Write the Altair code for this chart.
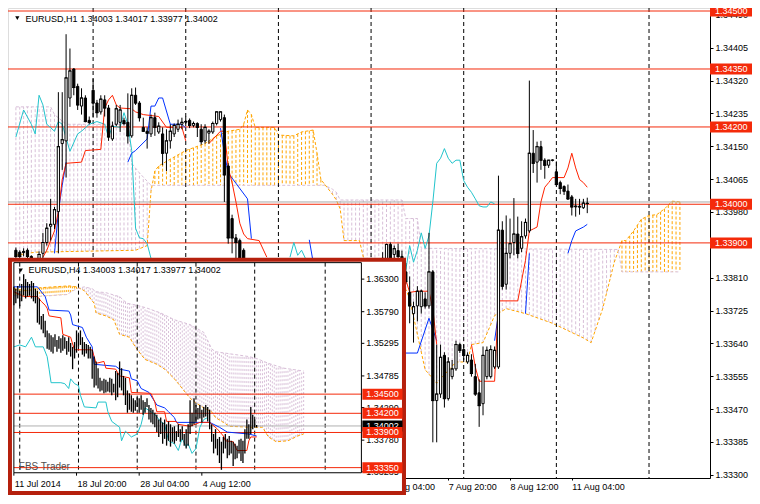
import altair as alt
import numpy as np
import pandas as pd

FONT = "Liberation Sans"
LEVEL = "#F42A0A"
ORANGE = "#FFA500"
THISTLE = "#D8BFD8"
CYAN = "#22C4CC"
BLUE = "#0030FF"
TENKAN = "#FF2200"
FRAME = "#B5200D"

# ---------------- layout helpers (reference px -> page px) ----------------
SX = 744 / 760
SY = 488 / 504
def px(x):
    return round(x * SX, 2)
def py(y):
    return round(y * SY, 2)
W, H = 702, 470

# ====================== MAIN CHART  EURUSD,H1 ======================
# bar index i : 0 = 1 Aug 2014 04:00 (one bar per trading hour)
bar_i = list(range(0, 61)) + list(range(95, 149))
bar_o = [1.33881,1.33876,1.33878,1.33881,1.33865,1.33850,1.33855,1.33873,1.33901,1.33943,
         1.33948,1.33981,1.34157,1.34164,1.34275,1.34350,1.34305,1.34254,1.34275,1.34217,
         1.34295,1.34262,1.34239,1.34270,1.34249,1.34169,1.34207,1.34212,1.34217,1.34212,
         1.34177,1.34282,1.34262,1.34199,1.34189,1.34182,1.34224,1.34187,1.34182,1.34132,
         1.34164,1.34182,1.34194,1.34207,1.34212,1.34217,1.34204,1.34209,1.34194,1.34164,
         1.34184,1.34187,1.34209,1.34219,1.34224,1.34099,1.33963,1.33913,1.33906,1.33881,
         1.33850,
         1.33860,1.33840,1.33896,1.33870,1.33880,1.33865,1.33825,1.33772,1.33717,1.33737,
         1.33735,1.33755,1.33737,1.33825,1.33492,1.33509,1.33609,1.33497,1.33554,1.33574,
         1.33637,1.33624,1.33592,1.33597,1.33554,1.33512,1.33484,1.33554,1.33554,1.33579,
         1.33579,1.33933,1.33793,1.33873,1.33901,1.33923,1.33886,1.33918,1.33931,1.34132,
         1.34109,1.34149,1.34114,1.34101,1.34114,1.34084,1.34056,1.34046,1.34034,1.34019,
         1.33993,1.33995,1.33991,1.34003]
bar_h = [1.33888,1.33881,1.33886,1.33886,1.33868,1.33860,1.33878,1.33926,1.33951,1.34014,
         1.33993,1.34290,1.34290,1.34440,1.34403,1.34352,1.34312,1.34300,1.34282,1.34227,
         1.34325,1.34270,1.34282,1.34282,1.34257,1.34214,1.34257,1.34257,1.34224,1.34287,
         1.34300,1.34302,1.34267,1.34224,1.34199,1.34232,1.34237,1.34212,1.34199,1.34194,
         1.34207,1.34209,1.34219,1.34224,1.34227,1.34222,1.34214,1.34212,1.34207,1.34207,
         1.34194,1.34214,1.34239,1.34239,1.34232,1.34106,1.33973,1.33923,1.33911,1.33886,
         1.33860,
         1.33876,1.33898,1.33901,1.33893,1.33898,1.33880,1.33848,1.33813,1.33748,1.33788,
         1.33779,1.33772,1.33926,1.33830,1.33637,1.33637,1.33617,1.33604,1.33597,1.33647,
         1.33642,1.33637,1.33617,1.33612,1.33587,1.33547,1.33632,1.33632,1.33635,1.33632,
         1.34074,1.33956,1.33971,1.33963,1.34016,1.33968,1.33956,1.33963,1.34320,1.34192,
         1.34162,1.34164,1.34119,1.34114,1.34116,1.34111,1.34061,1.34049,1.34051,1.34024,
         1.34014,1.34014,1.34014,1.34017]
bar_l = [1.33855,1.33860,1.33865,1.33855,1.33840,1.33835,1.33845,1.33860,1.33893,1.33906,
         1.33936,1.33873,1.34089,1.34069,1.34252,1.34282,1.34244,1.34232,1.34212,1.34207,
         1.34224,1.34224,1.34232,1.34227,1.34164,1.34164,1.34202,1.34187,1.34204,1.34157,
         1.34172,1.34257,1.34214,1.34187,1.34144,1.34174,1.34177,1.34182,1.34101,1.34086,
         1.34144,1.34174,1.34187,1.34194,1.34202,1.34197,1.34199,1.34174,1.34154,1.34157,
         1.34157,1.34182,1.34204,1.34214,1.34006,1.33898,1.33873,1.33860,1.33850,1.33830,
         1.33810,
         1.33820,1.33830,1.33840,1.33850,1.33845,1.33835,1.33793,1.33692,1.33642,1.33697,
         1.33717,1.33730,1.33730,1.33384,1.33384,1.33499,1.33474,1.33492,1.33547,1.33569,
         1.33615,1.33597,1.33587,1.33554,1.33504,1.33424,1.33454,1.33547,1.33549,1.33574,
         1.33574,1.33779,1.33779,1.33860,1.33868,1.33860,1.33876,1.33911,1.33926,1.34081,
         1.34056,1.34089,1.34066,1.34094,1.34111,1.34049,1.34026,1.34024,1.34011,1.33971,
         1.33968,1.33973,1.33988,1.33977]
bar_c = [1.33865,1.33865,1.33876,1.33865,1.33850,1.33855,1.33870,1.33901,1.33938,1.33948,
         1.33986,1.34149,1.34167,1.34327,1.34345,1.34302,1.34257,1.34275,1.34214,1.34212,
         1.34262,1.34237,1.34272,1.34249,1.34174,1.34202,1.34247,1.34244,1.34209,1.34177,
         1.34282,1.34262,1.34224,1.34189,1.34184,1.34224,1.34199,1.34202,1.34132,1.34164,
         1.34189,1.34204,1.34207,1.34212,1.34214,1.34204,1.34209,1.34199,1.34162,1.34199,
         1.34189,1.34209,1.34239,1.34239,1.34076,1.33913,1.33913,1.33901,1.33860,1.33850,
         1.33830,
         1.33845,1.33896,1.33855,1.33885,1.33865,1.33850,1.33800,1.33737,1.33735,1.33775,
         1.33775,1.33737,1.33825,1.33492,1.33509,1.33604,1.33497,1.33592,1.33574,1.33637,
         1.33622,1.33609,1.33609,1.33562,1.33509,1.33479,1.33609,1.33622,1.33624,1.33622,
         1.33933,1.33788,1.33873,1.33898,1.33923,1.33873,1.33916,1.33953,1.34132,1.34106,
         1.34149,1.34114,1.34101,1.34114,1.34114,1.34051,1.34041,1.34034,1.34014,1.33993,
         1.33995,1.33993,1.34003,1.34002]

# Ichimoku lines (bar index, price)
tenkan_i = [7,8,9,10,11,12,13,17,18,22,23,24,25,26,27,30,31,33,37,39,43,44,50,53,54,55,56,57,58,59,60,63,65,
            100,101,102,104,107,108,109,118,119,120,124,125,130,132,133,134,135,136,137,138,139,142,143,144,145,146,147,148]
tenkan_p = [1.33863,1.33881,1.33906,1.33931,1.33981,1.34064,1.34106,1.34109,1.34139,1.34142,
            1.34249,1.34270,1.34282,1.34257,1.34249,1.34247,1.34239,1.34232,1.34227,1.34199,
            1.34199,1.34164,1.34157,1.34189,1.34189,1.34094,1.34056,1.34006,1.33951,1.33923,
            1.33911,1.33906,1.33863,
            1.33793,1.33805,1.33772,1.33775,1.33775,1.33730,1.33637,1.33637,1.33579,1.33542,
            1.33542,1.33750,1.33750,1.33855,1.33931,1.33936,1.33941,1.34006,1.34044,1.34056,
            1.34069,1.34069,1.34094,1.34132,1.34094,1.34064,1.34056,1.34044]
kijun_i = [10,11,12,13,29,30,31,34,35,36,37,38,40,43,44,53,54,55,60,61,76,77,
           100,104,107,109,124,125,132,133,143,144,145,147,148]
kijun_p = [1.33873,1.33981,1.34049,1.34109,1.34109,1.34132,1.34139,1.34169,1.34254,1.34254,
           1.34275,1.34275,1.34207,1.34207,1.34197,1.34197,1.34132,1.34081,1.34014,1.33911,
           1.33908,1.33850,
           1.33615,1.33615,1.33705,1.33647,1.33647,1.33717,1.33717,1.33873,1.33873,1.33906,
           1.33931,1.33941,1.33948]
chikou_i = [0,2,4,5,6,7,8,10,11,12,14,16,17,19,21,23,24,25,27,28,29,30,31,32,33,34,35,
            71,72,73,74,75,
            100,101,102,103,104,105,106,107,108,109,110,111,112,113,114,115,116,117,118,119,120,121,122,123,124]
chikou_p = [1.34174,1.34244,1.34207,1.34182,1.34282,1.34257,1.34207,1.34189,1.34214,1.34207,
            1.34137,1.34182,1.34189,1.34207,1.34214,1.34207,1.34174,1.34202,1.34199,1.34237,
            1.34207,1.34139,1.33938,1.33913,1.33911,1.33898,1.33860,
            1.33863,1.33901,1.33868,1.33881,1.33860,
            1.33780,1.33830,1.33893,1.33850,1.33881,1.33926,1.33886,1.33918,1.34006,1.34106,
            1.34119,1.34144,1.34119,1.34106,1.34114,1.34114,1.34061,1.34044,1.34031,1.34014,
            1.33996,1.33993,1.33993,1.34006,1.34001]
spanA_i = [0,5,31,34,35,36,37,39,44,49,52,55,58,59,60,61,62,67,68,72,74,77,78,79,82,83,84,85,89,90,
           95,101,102,106,109,114,117,118,121,124,127,132,139,147,149,152,155,157,158,160,162,164,166,168,170,172]
spanA_p = [1.33868,1.33876,1.33881,1.33893,1.34034,1.34086,1.34099,1.34111,1.34139,1.34157,
           1.34177,1.34189,1.34194,1.34207,1.34244,1.34232,1.34199,1.34199,1.34179,1.34177,
           1.34187,1.34192,1.34132,1.34064,1.34026,1.34011,1.33988,1.33906,1.33906,1.33863,
           1.33818,1.33780,1.33755,1.33572,1.33537,1.33592,1.33592,1.33637,1.33642,1.33712,
           1.33730,1.33717,1.33692,1.33654,1.33642,1.33730,1.33850,1.33906,1.33906,1.33931,
           1.33961,1.33971,1.33973,1.33988,1.34008,1.34006]
spanB_i = [0,9,10,13,29,30,32,35,80,82,83,84,100,101,104,105,156,157,172]
spanB_p = [1.34252,1.34252,1.34232,1.34207,1.34207,1.34106,1.34081,1.34049,1.34049,1.34039,
           1.34031,1.34011,1.34011,1.33963,1.33963,1.33886,1.33883,1.33825,1.33825]

main_levels = [1.34500, 1.34350, 1.34200, 1.34000, 1.33900]
main_level_labels = ["1.34500", "1.34350", "1.34200", "1.34000", "1.33900"]
main_current = 1.34002
main_day_sep = [20, 44, 68, 92, 116, 140, 164]
main_y_ticks = [1.34490,1.34405,1.34320,1.34235,1.34150,1.34065,1.33980,1.33895,
                1.33810,1.33725,1.33640,1.33555,1.33470,1.33385,1.33300]
main_x_ticks = [96, 112, 128, 144]
main_x_labels = ["7 Aug 04:00", "7 Aug 20:00", "8 Aug 12:00", "11 Aug 04:00"]
main_title = "EURUSD,H1  1.34003 1.34017 1.33977 1.34002"

# ====================== INSET CHART  EURUSD,H4 ======================
inset_high = [1.36179,1.36149,1.36194,1.36118,1.36224,1.36376,1.36300,1.36255,1.36224,1.36270,
              1.36239,1.36149,1.36118,1.35997,1.35724,1.35755,1.35649,1.35497,1.35452,1.35421,
              1.35391,1.35436,1.35346,1.35406,1.35376,1.35421,1.35391,1.35330,1.35391,1.35300,
              1.35240,1.35315,1.35497,1.35436,1.35497,1.35391,1.35315,1.35285,1.35270,1.35240,
              1.35194,1.35088,1.35012,1.34906,1.34755,1.34709,1.34740,1.34724,1.34694,1.34755,
              1.34740,1.34664,1.34861,1.34830,1.35012,1.34906,1.34785,1.34755,1.34558,1.34512,
              1.34482,1.34437,1.34406,1.34452,1.34437,1.34482,1.34406,1.34376,1.34437,1.34330,
              1.34285,1.34255,1.34209,1.34179,1.34103,1.34134,1.34058,1.34103,1.34028,1.34073,
              1.34028,1.33982,1.33997,1.33922,1.34028,1.33952,1.33997,1.33876,1.33952,1.34028,
              1.34406,1.34209,1.34437,1.34330,1.34285,1.34330,1.34255,1.34300,1.34330,1.34300,
              1.34255,1.34028,1.33876,1.33952,1.33800,1.33830,1.33755,1.33830,1.33876,1.33800,
              1.33846,1.33770,1.33755,1.33725,1.33694,1.33785,1.33800,1.33770,1.33952,1.34103,
              1.34028,1.34300,1.34179,1.34103,1.34017]
inset_low = [1.35891,1.35921,1.35997,1.35876,1.35952,1.36042,1.35997,1.36027,1.36042,1.35997,
             1.35952,1.35921,1.35618,1.35588,1.35512,1.35452,1.35391,1.35209,1.35194,1.35164,
             1.35134,1.35240,1.35164,1.35209,1.35149,1.35179,1.35209,1.35118,1.35164,1.35088,
             1.34891,1.35058,1.35149,1.35240,1.35270,1.35118,1.35088,1.35134,1.35058,1.35058,
             1.34740,1.34603,1.34634,1.34588,1.34543,1.34558,1.34512,1.34527,1.34543,1.34527,
             1.34482,1.34527,1.34406,1.34452,1.34603,1.34558,1.34482,1.34330,1.34209,1.34255,
             1.34224,1.34209,1.34240,1.34300,1.34209,1.34255,1.34179,1.34209,1.34300,1.34103,
             1.34058,1.34028,1.33982,1.33906,1.33830,1.33876,1.33725,1.33800,1.33694,1.33770,
             1.33679,1.33755,1.33725,1.33770,1.33830,1.33755,1.33785,1.33694,1.33649,1.33694,
             1.33876,1.33997,1.34028,1.34058,1.34103,1.34118,1.34058,1.34134,1.34149,1.34073,
             1.33952,1.33755,1.33573,1.33649,1.33543,1.33422,1.33316,1.33573,1.33649,1.33497,
             1.33543,1.33573,1.33376,1.33482,1.33497,1.33573,1.33452,1.33422,1.33573,1.33800,
             1.33800,1.33876,1.33952,1.33982,1.33977]
in_tenkan_j = [0,5,12,14,16,17,18,24,25,29,30,31,40,41,42,46,47,52,54,59,60,70,72,73,77,78,83,84,90,95,
               100,104,107,108,112,114,119,120,121,124]
in_tenkan_p = [1.36103,1.36027,1.36027,1.35951,1.35891,1.35845,1.35724,1.35694,1.35436,1.35391,
               1.35285,1.35194,1.35194,1.35088,1.34982,1.35012,1.34906,1.34891,1.34785,1.34755,
               1.34527,1.34512,1.34376,1.34224,1.34224,1.34073,1.34073,1.34027,1.33997,1.34058,
               1.34058,1.33952,1.33845,1.33770,1.33755,1.33618,1.33618,1.33770,1.33830,1.33830]
in_kijun_j = [0,12,16,18,28,29,30,35,37,40,41,52,54,59,60,63,65,69,73,77,79,82,83,100,105,109,120,124]
in_kijun_p = [1.36179,1.36179,1.36027,1.35815,1.35800,1.35739,1.35588,1.35543,1.35391,1.35240,
              1.34967,1.34936,1.34891,1.34861,1.34739,1.34709,1.34588,1.34527,1.34330,1.34285,
              1.34224,1.34133,1.34058,1.34058,1.33982,1.33906,1.33876,1.33845]
in_chikou_j = [0,3,6,9,11,15,17,18,19,24,26,28,29,31,33,34,36,42,43,47,48,50,54,55,57,60,63,65,67,70,
               72,75,77,79,82,84,85,86,88,89,91,93,95,97,99]
in_chikou_p = [1.35240,1.35270,1.35240,1.35391,1.35240,1.35240,1.35088,1.34891,1.34679,1.34679,
               1.34664,1.34588,1.34739,1.34664,1.34633,1.34482,1.34300,1.34285,1.34376,1.34376,
               1.34224,1.34073,1.33982,1.33770,1.33921,1.33830,1.33876,1.34027,1.34285,1.34224,
               1.34179,1.34073,1.34027,1.33770,1.33724,1.33618,1.33724,1.33800,1.33679,1.33724,
               1.33573,1.33649,1.33982,1.34103,1.34133]
in_spanA_j = [0,7,13,28,32,36,41,42,47,51,53,54,59,62,65,67,73,77,82,84,88,90,93,97,101,103,107,110,121,127,
              130,134,140,145,148]
in_spanA_p = [1.36149,1.36118,1.36164,1.36194,1.36179,1.36118,1.35921,1.35770,1.35724,1.35664,
              1.35512,1.35436,1.35391,1.35240,1.35118,1.35043,1.34967,1.34891,1.34739,1.34664,
              1.34512,1.34436,1.34361,1.34285,1.34224,1.34133,1.34058,1.33997,1.33982,1.33982,
              1.33830,1.33755,1.33770,1.33845,1.33876]
in_spanB_j = [0,12,27,32,36,40,42,47,52,54,56,58,63,68,75,82,90,97,101,103,120,124,130,138,148]
in_spanB_p = [1.36042,1.36027,1.36058,1.36149,1.36179,1.36149,1.36103,1.36088,1.36042,1.36027,
              1.35967,1.35921,1.35891,1.35846,1.35770,1.35664,1.35588,1.35467,1.35209,1.35164,
              1.35088,1.35058,1.34982,1.34906,1.34861]
in_levels = [1.34500, 1.34200, 1.33900, 1.33350]
in_level_labels = ["1.34500", "1.34200", "1.33900", "1.33350"]
in_current = 1.34002
in_week_sep = [3, 33, 63, 93, 123, 159]
in_y_ticks = [1.36300, 1.35790, 1.35295, 1.34785, 1.34290, 1.33780, 1.33285]
in_x_ticks = [0, 32, 64, 96]
in_x_labels = ["11 Jul 2014", "18 Jul 20:00", "28 Jul 04:00", "4 Aug 12:00"]
in_title = "EURUSD,H4  1.34003 1.34017 1.33977 1.34002"

# ---------------------------------------------------------------------------
one = pd.DataFrame({"k": [0]})
cloud_color = alt.Scale(domain=["up", "down"], range=[ORANGE, THISTLE])

def segs(idx, gap):
    s, out = 0, []
    for k, v in enumerate(idx):
        if k > 0 and v - idx[k - 1] > gap:
            s += 1
        out.append(s)
    return out

main_xs = alt.Scale(domain=[-0.75, 178.5], nice=False, zero=False)
main_ys = alt.Scale(domain=[1.332917, 1.345078], nice=False, zero=False)
expr = "''"
for v, lab in reversed(list(zip(main_x_ticks, main_x_labels))):
    expr = f"datum.value == {v} ? '{lab}' : {expr}"
ax_x = alt.Axis(values=main_x_ticks, labelExpr=expr, labelAlign="left", labelBaseline="top",
                labelFont=FONT, labelFontSize=9, labelColor="black", labelPadding=2,
                tickSize=2, tickColor="black", domainColor="black", grid=False, title=None,
                labelFlush=False, labelOverlap=False)
ax_y = alt.Axis(orient="right", values=main_y_ticks, format=".5f", labelFont=FONT, labelFontSize=9,
                labelColor="black", labelPadding=2, tickSize=3, tickColor="black",
                domainColor="black", grid=False, title=None, labelFlush=False, labelOverlap=False)

def MX(f="i"):
    return alt.X(f"{f}:Q", scale=main_xs, axis=ax_x, title=None)
def MY(f):
    return alt.Y(f"{f}:Q", scale=main_ys, axis=ax_y, title=None)

cand = pd.DataFrame({"i": bar_i, "o": bar_o, "h": bar_h, "l": bar_l, "c": bar_c})
hi = np.arange(0, 173)
ha = np.interp(hi, spanA_i, spanA_p)
hb = np.interp(hi, spanB_i, spanB_p)
hatch = pd.DataFrame({"i": hi, "a": ha, "b": hb, "kind": np.where(ha >= hb, "up", "down")})
ten = pd.DataFrame({"i": tenkan_i, "p": tenkan_p, "s": segs(tenkan_i, 5)})
kij = pd.DataFrame({"i": kijun_i, "p": kijun_p, "s": segs(kijun_i, 5)})
chi = pd.DataFrame({"i": chikou_i, "p": chikou_p, "s": segs(chikou_i, 5)})
sa = pd.DataFrame({"i": spanA_i, "p": spanA_p})
sb = pd.DataFrame({"i": spanB_i, "p": spanB_p})
lv = pd.DataFrame({"p": main_levels, "lab": main_level_labels})

main_layers = [
    alt.Chart(hatch).mark_rule(strokeDash=[3, 2], strokeWidth=1).encode(
        x=MX(), y=MY("a"), y2="b", color=alt.Color("kind:N", scale=cloud_color, legend=None)),
    alt.Chart(sa).mark_line(color=ORANGE, strokeDash=[3, 2], strokeWidth=1).encode(x=MX(), y=MY("p")),
    alt.Chart(sb).mark_line(color=THISTLE, strokeDash=[3, 2], strokeWidth=1).encode(x=MX(), y=MY("p")),
    alt.Chart(pd.DataFrame({"i": main_day_sep})).mark_rule(color="black", strokeDash=[4, 3], strokeWidth=1).encode(x=MX()),
    alt.Chart(lv).mark_rule(color=LEVEL, strokeWidth=1).encode(y=MY("p")),
    alt.Chart(pd.DataFrame({"p": [main_current]})).mark_rule(color="#A8A8A8", strokeWidth=1, yOffset=-1.5).encode(y=MY("p")),
    alt.Chart(chi).mark_line(color=CYAN, strokeWidth=1).encode(x=MX(), y=MY("p"), detail="s:N"),
    alt.Chart(kij).mark_line(color=BLUE, strokeWidth=1).encode(x=MX(), y=MY("p"), detail="s:N"),
    alt.Chart(ten).mark_line(color=TENKAN, strokeWidth=1).encode(x=MX(), y=MY("p"), detail="s:N"),
    alt.Chart(cand).mark_rule(color="black", strokeWidth=1).encode(x=MX(), y=MY("l"), y2="h"),
    alt.Chart(cand).mark_bar(size=2.2, stroke="black", strokeWidth=1).encode(
        x=MX(), y=MY("o"), y2="c",
        fill=alt.condition("datum.c >= datum.o", alt.value("white"), alt.value("black"))),
    alt.Chart(cand).mark_rule(color="black", strokeWidth=1, xOffset=-1.6, x2Offset=1.6).encode(x=MX(), x2="i", y=MY("c")),
    alt.Chart(lv).mark_rect(color=LEVEL, yOffset=-5.5, y2Offset=5.5).encode(
        x=alt.value(W), x2=alt.value(W + 42), y=MY("p"), y2="p"),
    alt.Chart(lv).mark_text(align="left", baseline="middle", color="white", font=FONT, fontSize=9).encode(
        x=alt.value(W + 5), y=MY("p"), text="lab:N"),
    alt.Chart(one).mark_point(shape="triangle-down", filled=True, color="black", size=18, opacity=1).encode(
        x=alt.value(px(9.5)), y=alt.value(py(10.5))),
    alt.Chart(one).mark_text(text=main_title, align="left", baseline="middle", font=FONT, fontSize=9,
                             color="black").encode(x=alt.value(px(18)), y=alt.value(py(11))),
]
main = alt.layer(*main_layers)

in_xs = alt.Scale(domain=[0, 177.5], range=[px(6), px(361)], nice=False, zero=False)
in_ys = alt.Scale(domain=[1.332697, 1.365576], range=[py(480), py(263)], nice=False, zero=False)
def IX(f="j"):
    return alt.X(f"{f}:Q", scale=in_xs, axis=None, title=None)
def IY(f):
    return alt.Y(f"{f}:Q", scale=in_ys, axis=None, title=None)

ij = np.arange(0, 149)
ia = np.interp(ij, in_spanA_j, in_spanA_p)
ib = np.interp(ij, in_spanB_j, in_spanB_p)
ihatch = pd.DataFrame({"j": ij, "a": ia, "b": ib, "kind": np.where(ia >= ib, "up", "down")})
ibars = pd.DataFrame({"j": list(range(len(inset_high))), "h": inset_high, "l": inset_low})
ilv = pd.DataFrame({"p": in_levels, "lab": in_level_labels})

inset_layers = [
    alt.Chart(one).mark_rect(fill="white", stroke=FRAME, strokeWidth=4).encode(
        x=alt.value(px(2)), x2=alt.value(px(404.5)), y=alt.value(py(260)), y2=alt.value(py(501))),
    alt.Chart(ihatch).mark_rule(strokeDash=[2, 2], strokeWidth=1).encode(
        x=IX(), y=IY("a"), y2="b", color=alt.Color("kind:N", scale=cloud_color, legend=None)),
    alt.Chart(pd.DataFrame({"j": in_spanA_j, "p": in_spanA_p})).mark_line(
        color=ORANGE, strokeDash=[3, 2], strokeWidth=1).encode(x=IX(), y=IY("p")),
    alt.Chart(pd.DataFrame({"j": in_spanB_j, "p": in_spanB_p})).mark_line(
        color=THISTLE, strokeDash=[3, 2], strokeWidth=1).encode(x=IX(), y=IY("p")),
    alt.Chart(pd.DataFrame({"j": in_week_sep})).mark_rule(color="black", strokeDash=[4, 3], strokeWidth=1).encode(
        x=IX(), y=alt.value(py(263)), y2=alt.value(py(480))),
    alt.Chart(ilv).mark_rule(color=LEVEL, strokeWidth=1).encode(
        x=alt.value(px(6)), x2=alt.value(px(361)), y=IY("p")),
    alt.Chart(pd.DataFrame({"p": [in_current]})).mark_rule(color="#B0B0B0", strokeWidth=1).encode(
        x=alt.value(px(6)), x2=alt.value(px(361)), y=IY("p")),
    alt.Chart(pd.DataFrame({"j": in_chikou_j, "p": in_chikou_p})).mark_line(color=CYAN, strokeWidth=1).encode(
        x=IX(), y=IY("p")),
    alt.Chart(pd.DataFrame({"j": in_kijun_j, "p": in_kijun_p})).mark_line(color=BLUE, strokeWidth=1).encode(
        x=IX(), y=IY("p")),
    alt.Chart(pd.DataFrame({"j": in_tenkan_j, "p": in_tenkan_p})).mark_line(color=TENKAN, strokeWidth=1).encode(
        x=IX(), y=IY("p")),
    alt.Chart(ibars).mark_rule(color="black", strokeWidth=1.3).encode(x=IX(), y=IY("l"), y2="h"),
    alt.Chart(one).mark_rect(fillOpacity=0, stroke="black", strokeWidth=1).encode(
        x=alt.value(px(6)), x2=alt.value(px(361)), y=alt.value(py(263)), y2=alt.value(py(480))),
    alt.Chart(pd.DataFrame({"p": in_y_ticks})).mark_rule(color="black").encode(
        x=alt.value(px(361)), x2=alt.value(px(364)), y=IY("p")),
    alt.Chart(pd.DataFrame({"p": in_y_ticks})).mark_text(align="left", baseline="middle", font=FONT,
                                                         fontSize=9, color="black").encode(
        x=alt.value(px(366)), y=IY("p"), text=alt.Text("p:Q", format=".5f")),
    alt.Chart(pd.DataFrame({"j": in_x_ticks})).mark_rule(color="black").encode(
        x=IX(), y=alt.value(py(480)), y2=alt.value(py(483))),
    alt.Chart(pd.DataFrame({"j": in_x_ticks, "lab": in_x_labels})).mark_text(
        align="left", baseline="middle", font=FONT, fontSize=9, color="black", dx=1).encode(
        x=IX(), y=alt.value(py(492)), text="lab:N"),
    alt.Chart(pd.DataFrame({"p": [in_current], "lab": ["1.34002"]})).mark_rect(
        color="black", yOffset=-5.5, y2Offset=5.5).encode(
        x=alt.value(px(362)), x2=alt.value(px(403)), y=IY("p"), y2="p"),
    alt.Chart(pd.DataFrame({"p": [in_current], "lab": ["1.34002"]})).mark_text(
        align="left", baseline="middle", color="white", font=FONT, fontSize=9).encode(
        x=alt.value(px(366)), y=IY("p"), text="lab:N"),
    alt.Chart(ilv).mark_rect(color=LEVEL, yOffset=-5.5, y2Offset=5.5).encode(
        x=alt.value(px(362)), x2=alt.value(px(403)), y=IY("p"), y2="p"),
    alt.Chart(ilv).mark_text(align="left", baseline="middle", color="white", font=FONT, fontSize=9).encode(
        x=alt.value(px(366)), y=IY("p"), text="lab:N"),
    alt.Chart(one).mark_point(shape="triangle-down", filled=True, color="black", size=18, opacity=1).encode(
        x=alt.value(px(13)), y=alt.value(py(271))),
    alt.Chart(one).mark_text(text=in_title, align="left", baseline="middle", font=FONT, fontSize=9,
                             color="black").encode(x=alt.value(px(21)), y=alt.value(py(271))),
    alt.Chart(one).mark_text(text="FBS Trader", align="left", baseline="middle", font=FONT, fontSize=10,
                             color="#505050").encode(x=alt.value(px(11)), y=alt.value(py(474))),
]
inset = alt.layer(*inset_layers)

chart = alt.layer(main, inset).resolve_scale(x="independent", y="independent").properties(
    width=W, height=H,
    autosize=alt.AutoSizeParams(type="none"),
    padding={"left": 0, "top": 0, "right": 42, "bottom": 18},
).configure_view(stroke=None).configure(background="white")

chart.save("out.html", embed_options={"renderer": "svg", "actions": False})
